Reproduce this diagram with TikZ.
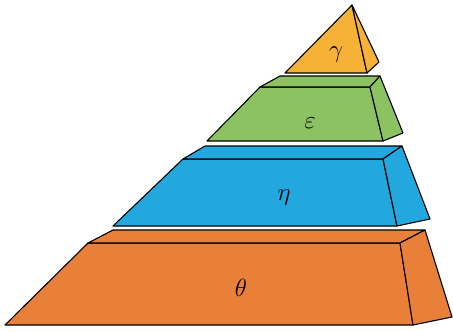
\documentclass[tikz,border=0pt]{standalone}
\usepackage{amsmath}
\definecolor{cOrange}{HTML}{E8803A}
\definecolor{cBlue}{HTML}{22A7DE}
\definecolor{cGreen}{HTML}{8CC262}
\definecolor{cYellow}{HTML}{F5B236}
\tikzset{face/.style={draw=black, line width=1.1pt, line join=round},
  lab/.style={font=\fontsize{28}{32}\selectfont, inner sep=0pt}}
\begin{document}
\begin{tikzpicture}[x=1pt,y=-1pt]
\useasboundingbox (0,0) rectangle (453,332);
% orange
\coordinate (oBL) at (5,325); \coordinate (oBR) at (413,325);
\coordinate (oTR) at (400,243); \coordinate (oTL) at (88,243);
\coordinate (oKL) at (113,230); \coordinate (oKR) at (425,230);
\coordinate (oSB) at (452,317);
\path[face, fill=cOrange] (oBL) -- (oBR) -- (oTR) -- (oTL) -- cycle;
\path[face, fill=cOrange] (oTL) -- (oKL) -- (oKR) -- (oTR) -- cycle;
\path[face, fill=cOrange] (oTR) -- (oKR) -- (oSB) -- (oBR) -- cycle;
% blue
\coordinate (bBL) at (113,226); \coordinate (bBR) at (397,226);
\coordinate (bTR) at (383,159); \coordinate (bTL) at (183,159);
\coordinate (bKL) at (205,146); \coordinate (bKR) at (402,146);
\coordinate (bSB) at (430,219);
\path[face, fill=cBlue] (bBL) -- (bBR) -- (bTR) -- (bTL) -- cycle;
\path[face, fill=cBlue] (bTL) -- (bKL) -- (bKR) -- (bTR) -- cycle;
\path[face, fill=cBlue] (bTR) -- (bKR) -- (bSB) -- (bBR) -- cycle;
% green
\coordinate (gBL) at (207,141); \coordinate (gBR) at (383,141);
\coordinate (gTR) at (370,87); \coordinate (gTL) at (260,87);
\coordinate (gKL) at (280,76); \coordinate (gKR) at (380,76);
\coordinate (gSB) at (403,133);
\path[face, fill=cGreen] (gBL) -- (gBR) -- (gTR) -- (gTL) -- cycle;
\path[face, fill=cGreen] (gTL) -- (gKL) -- (gKR) -- (gTR) -- cycle;
\path[face, fill=cGreen] (gTR) -- (gKR) -- (gSB) -- (gBR) -- cycle;
% yellow
\coordinate (yA) at (352,5); \coordinate (yBL) at (285,73);
\coordinate (yBR) at (367,73); \coordinate (yK) at (379,62);
\path[face, fill=cYellow] (yA) -- (yBL) -- (yBR) -- cycle;
\path[face, fill=cYellow] (yA) -- (yBR) -- (yK) -- cycle;
% labels
\node[lab] (lg) at (336,55) {$\gamma$};
\node[lab] (le) at (310,123) {$\varepsilon$};
\node[lab] (lh) at (284,198) {$\eta$};
\node[lab] (lt) at (241,288) {$\theta$};
\end{tikzpicture}
\end{document}
